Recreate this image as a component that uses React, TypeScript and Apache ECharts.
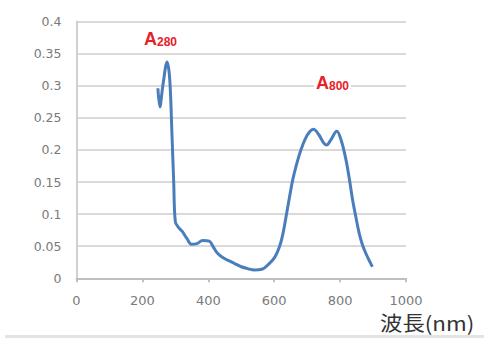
import React, { useEffect, useRef } from "react";
import * as echarts from "echarts";

const wavelengths = [247, 253, 262, 275, 283, 290, 295, 300, 310, 321, 335, 349, 365, 383, 403, 415, 428, 445, 464, 480, 500, 520, 540, 562, 585, 602, 616, 626, 636, 646, 656, 668, 681, 695, 707, 719, 735, 750, 759, 770, 790, 805, 818, 828, 838, 848, 858, 868, 878, 890, 898];
const absorbance = [0.296, 0.267, 0.3, 0.337, 0.31, 0.22, 0.15, 0.088, 0.079, 0.073, 0.062, 0.053, 0.054, 0.059, 0.058, 0.049, 0.039, 0.032, 0.027, 0.023, 0.018, 0.015, 0.013, 0.014, 0.023, 0.033, 0.049, 0.068, 0.096, 0.125, 0.153, 0.178, 0.2, 0.218, 0.228, 0.232, 0.224, 0.211, 0.2075, 0.214, 0.229, 0.212, 0.184, 0.155, 0.122, 0.095, 0.07, 0.052, 0.039, 0.026, 0.018];
const xTicks = { min: 0, max: 1000, interval: 200 };
const yTicks = { min: 0, max: 0.4, interval: 0.05 };
const peakLabels = [
  { main: "A", sub: "280", x: 142, y: 30 },
  { main: "A", sub: "800", x: 314, y: 74 },
];
const axisTitle = "波長(nm)";

export default function App() {
  const ref = useRef<HTMLDivElement>(null);
  useEffect(() => {
    if (!ref.current) return;
    const chart = echarts.init(ref.current, null, { renderer: "svg" });
    const data = wavelengths.map((w, i) => [w, absorbance[i]]);
    chart.setOption({
      animation: false,
      backgroundColor: "#ffffff",
      grid: { left: 76.5, right: 78, top: 21.5, bottom: 59.7 },
      xAxis: {
        type: "value",
        min: xTicks.min,
        max: xTicks.max,
        interval: xTicks.interval,
        axisLine: { show: true, lineStyle: { color: "#bfbfbf", width: 2 } },
        axisTick: { show: true, length: 4, lineStyle: { color: "#bfbfbf", width: 2 } },
        splitLine: { show: false },
        axisLabel: {
          color: "#7a7a7a",
          fontSize: 13,
          margin: 16,
          fontFamily: "DejaVu Sans",
          formatter: (v: number) => String(v),
        },
      },
      yAxis: {
        type: "value",
        min: yTicks.min,
        max: yTicks.max,
        interval: yTicks.interval,
        axisLine: { show: true, lineStyle: { color: "#d0d0d0", width: 2 } },
        axisTick: { show: false },
        splitLine: { show: true, lineStyle: { color: "#d9d9d9", width: 2 } },
        axisLabel: { color: "#7a7a7a", fontSize: 12.5, margin: 15, fontFamily: "DejaVu Sans" },
      },
      series: [
        {
          type: "line",
          data,
          smooth: 0.35,
          showSymbol: false,
          lineStyle: { color: "#4a7ebb", width: 3 },
        },
      ],
      graphic: [
        ...peakLabels.map((p) => ({
          type: "text",
          left: p.x,
          top: p.y,
          z: 100,
          style: {
            backgroundColor: "#ffffff",
            padding: [0, 2, 0, 2],
            rich: {
              a: { fontSize: 18, fontWeight: "bold", fill: "#e8202a", fontFamily: "Liberation Sans" },
              b: { fontSize: 12, fontWeight: "bold", fill: "#e8202a", fontFamily: "Liberation Sans", verticalAlign: "bottom", padding: [5, 0, 0, 0] },
            },
            text: `{a|${p.main}}{b|${p.sub}}`,
          },
        })),
        {
          type: "text",
          x: 380,
          y: 312,
          scaleX: 1.12,
          style: {
            text: axisTitle,
            fontSize: 20,
            lineHeight: 20,
            fill: "#333333",
            fontFamily: "Noto Sans CJK JP",
            verticalAlign: "top",
          },
        },
        {
          type: "rect",
          left: 5,
          top: 335,
          shape: { width: 479, height: 3 },
          style: { fill: "#e4e4e4" },
        },
      ],
    });
    return () => chart.dispose();
  }, []);
  return (
    <div
      ref={ref}
      style={{ position: "absolute", left: 0, top: 0, width: 484, height: 338 }}
    />
  );
}
